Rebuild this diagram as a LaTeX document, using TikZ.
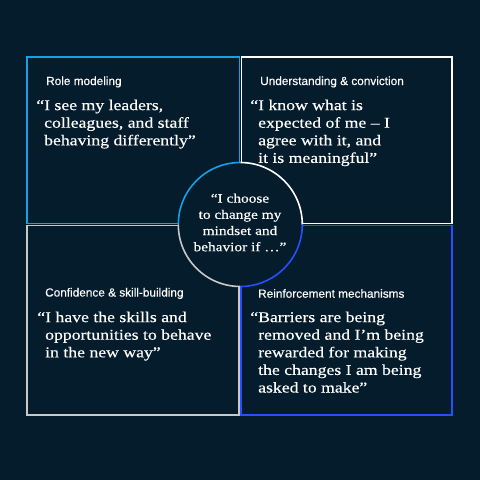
\documentclass[tikz,border=0pt]{standalone}
\usepackage{fontspec}
\usetikzlibrary{calc}
\setmainfont{Liberation Serif}
\newfontfamily\qfont[FakeStretch=1.18,FakeBold=0.35]{Liberation Serif}
\newfontfamily\tfont[FakeBold=0.2]{Liberation Sans}
\definecolor{bg}{RGB}{5,28,44}
\definecolor{lblue}{RGB}{22,160,230}
\definecolor{dblue}{RGB}{34,81,255}
\definecolor{lgrey}{RGB}{200,200,200}
\tikzset{
  quad/.style={line width=1.6pt},
  ttl/.style={anchor=west,inner sep=0pt,text=white,font=\tfont\fontsize{11.8}{14}\selectfont},
  quote/.style={anchor=north west,inner sep=0pt,text=white,align=left,font=\qfont\fontsize{15}{17.6}\selectfont},
  ctext/.style={inner sep=0pt,text=white,align=center,font=\qfont\fontsize{13}{16.2}\selectfont},
}
\begin{document}
\begin{tikzpicture}[x=1pt,y=-1pt]
\fill[bg] (0,0) rectangle (480,480);
\useasboundingbox (0,0) rectangle (480,480);
% boxes
\draw[quad,lblue] (27,57) rectangle (239.3,223.5);
\draw[quad,white] (241.4,57) rectangle (452,223.5);
\draw[quad,lgrey] (27,225.5) rectangle (239.1,415);
\draw[quad,dblue] (241.2,225.5) rectangle (452,415);
% circle
\coordinate (c) at (240.3,224.5);
\fill[bg] (c) circle[radius=62];
\draw[quad,white] ($(c)+(62,0)$) arc[start angle=0,end angle=-90,radius=62];
\draw[quad,lblue] ($(c)+(0,-62)$) arc[start angle=-90,end angle=-180,radius=62];
\draw[quad,lgrey] ($(c)+(-62,0)$) arc[start angle=180,end angle=90,radius=62];
\draw[quad,dblue] ($(c)+(0,62)$) arc[start angle=90,end angle=0,radius=62];
% titles
\node[ttl] (t1) at (46,82) {Role modeling};
\node[ttl] (t2) at (260,82) {Understanding \& conviction};
\node[ttl] (t3) at (45,293.5) {Confidence \& skill-building};
\node[ttl] (t4) at (258,293.5) {Reinforcement mechanisms};
% quotes
\node[quote] (q1) at (44,99.5) {\llap{“}I see my leaders,\\colleagues, and staff\\behaving differently”};
\node[quote] (q2) at (258,99.5) {\llap{“}I know what is\\expected of me – I\\agree with it, and\\it is meaningful”};
\node[quote] (q3) at (45,311.5) {\llap{“}I have the skills and\\opportunities to behave\\in the new way”};
\node[quote] (q4) at (258,311.5) {\llap{“}Barriers are being\\removed and I’m being\\rewarded for making\\the changes I am being\\asked to make”};
% center
\node[ctext] (ct) at (240,222.5) {“I choose\\to change my\\mindset and\\behavior if …”};
\end{tikzpicture}
\end{document}
